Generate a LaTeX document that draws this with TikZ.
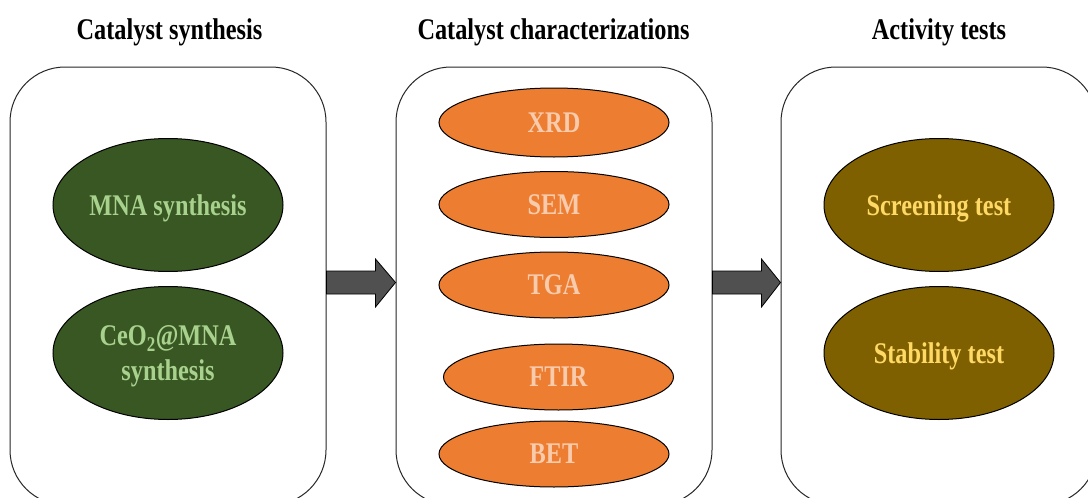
\documentclass[tikz,border=0pt]{standalone}
\usepackage{fontspec}
\setmainfont{Liberation Serif}[FakeStretch=0.81]
\usetikzlibrary{shapes.geometric,calc}
\definecolor{grfill}{HTML}{385723}
\definecolor{grtext}{HTML}{A9D18E}
\definecolor{orfill}{HTML}{ED7D31}
\definecolor{ortext}{HTML}{F8CBAD}
\definecolor{brfill}{HTML}{7F6000}
\definecolor{brtext}{HTML}{FFD966}
\definecolor{arrowgray}{HTML}{505050}
\begin{document}
\begin{tikzpicture}[x=1pt,y=-1pt,
  panel/.style={draw=black!85, line width=1pt, rounded corners=55pt, minimum width=316pt, minimum height=438pt, inner sep=0pt},
  oval/.style={ellipse, draw=black, line width=1pt, inner sep=0pt, minimum width=230pt, font=\fontsize{30}{35}\selectfont\bfseries, align=center},
  bigoval/.style={oval, minimum height=133pt},
  smalloval/.style={oval, minimum height=66pt, fill=orfill, text=ortext, text depth=0pt},
  greenoval/.style={bigoval, fill=grfill, text=grtext},
  brownoval/.style={bigoval, fill=brfill, text=brtext, text depth=0pt},
  title/.style={font=\fontsize{30}{35}\selectfont\bfseries, anchor=base, inner sep=0pt},
  blockarrow/.style={fill=arrowgray, draw=black, line width=0.8pt, line join=miter}
]
\useasboundingbox (0,0) rectangle (1088,498);
\clip (0,0) rectangle (1088,498);
\fill[white] (0,0) rectangle (1088,498);

% titles
\node[title] (t1) at (169.5,39) {Catalyst synthesis};
\node[title] (t2) at (553.5,39) {Catalyst characterizations};
\node[title] (t3) at (939,39) {Activity tests};

% panels
\node[panel] (p1) at (168,286) {};
\node[panel] (p2) at (554,286) {};
\node[panel] (p3) at (939,286) {};

% synthesis
\node[greenoval, text depth=0pt] (g1) at (168,205) {MNA synthesis};
\node[greenoval, text height=62pt] (g2) at (168,353) {CeO\textsubscript{2}@MNA\\synthesis};

% characterizations
\node[smalloval, minimum height=69pt] (o1) at (554,122.5) {XRD};
\node[smalloval] (o2) at (554,204.5) {SEM};
\node[smalloval] (o3) at (554,285) {TGA};
\node[smalloval] (o4) at (558.5,377) {FTIR};
\node[smalloval] (o5) at (554,454) {BET};

% activity tests
\node[brownoval] (r1) at (939,205) {Screening test};
\node[brownoval] (r2) at (939,353) {Stability test};

% block arrows
\draw[blockarrow] ($(p1.east)+(0,-15)$) -- ($(p2.west)+(-20,-15)$) -- ($(p2.west)+(-20,-27)$)
  -- ($(p2.west)+(0,-3.5)$) -- ($(p2.west)+(-20,21)$) -- ($(p2.west)+(-20,8)$) -- ($(p1.east)+(0,8)$) -- cycle;
\draw[blockarrow] ($(p2.east)+(0,-15)$) -- ($(p3.west)+(-19,-15)$) -- ($(p3.west)+(-19,-27)$)
  -- ($(p3.west)+(0,-3.5)$) -- ($(p3.west)+(-19,21)$) -- ($(p3.west)+(-19,8)$) -- ($(p2.east)+(0,8)$) -- cycle;
\end{tikzpicture}
\end{document}
